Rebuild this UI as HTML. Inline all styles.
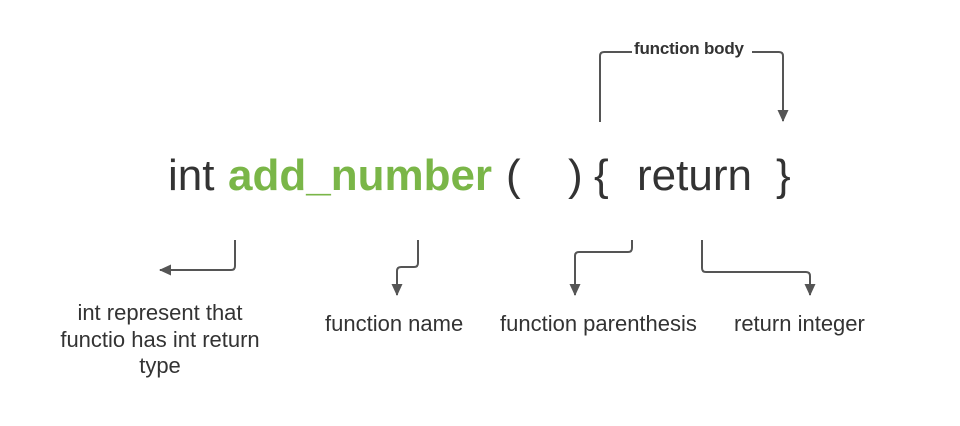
<!DOCTYPE html>
<html><head><meta charset="utf-8"><style>
body{margin:0;width:960px;height:426px;background:#fff;overflow:hidden;position:relative;font-family:"Liberation Sans",sans-serif;color:#333}
.t{position:absolute;white-space:nowrap;line-height:1}
.big{font-size:44px;top:154px}
.s{font-size:22px;color:#333}
</style></head><body>
<svg width="960" height="426" style="position:absolute;left:0;top:0">
<defs><marker id="a" markerWidth="12" markerHeight="12" refX="11" refY="5.5" orient="auto" markerUnits="userSpaceOnUse"><path d="M0,0 L12,5.5 L0,11 z" fill="#555"/></marker></defs>
<g fill="none" stroke="#555" stroke-width="2">
<path d="M600,122 V56 Q600,52 604,52 H632 M752,52 H779 Q783,52 783,56 V121" marker-end="url(#a)"/>
<path d="M235,240 V266 Q235,270 231,270 H160" marker-end="url(#a)"/>
<path d="M418,240 V263 Q418,267 414,267 H401 Q397,267 397,271 V295" marker-end="url(#a)"/>
<path d="M632,240 V248 Q632,252 628,252 H579 Q575,252 575,256 V295" marker-end="url(#a)"/>
<path d="M702,240 V268 Q702,272 706,272 H806 Q810,272 810,276 V295" marker-end="url(#a)"/>
</g>
</svg>
<div class="t" style="left:634px;top:40px;font-size:17px;font-weight:bold;letter-spacing:-0.2px">function body</div>
<div class="t big" style="left:168px">int</div>
<div class="t big" style="left:228px;color:#7ab648;font-weight:bold">add_number</div>
<div class="t big" style="left:506px">(</div>
<div class="t big" style="left:568px">)</div>
<div class="t big" style="left:594px">{</div>
<div class="t big" style="left:637px">return</div>
<div class="t big" style="left:776px">}</div>
<div class="t s" style="left:40px;top:300px;width:240px;text-align:center;line-height:26.5px">int represent that<br>functio has int return<br>type</div>
<div class="t s" style="left:325px;top:313px">function name</div>
<div class="t s" style="left:500px;top:313px">function parenthesis</div>
<div class="t s" style="left:734px;top:313px">return integer</div>
</body></html>
